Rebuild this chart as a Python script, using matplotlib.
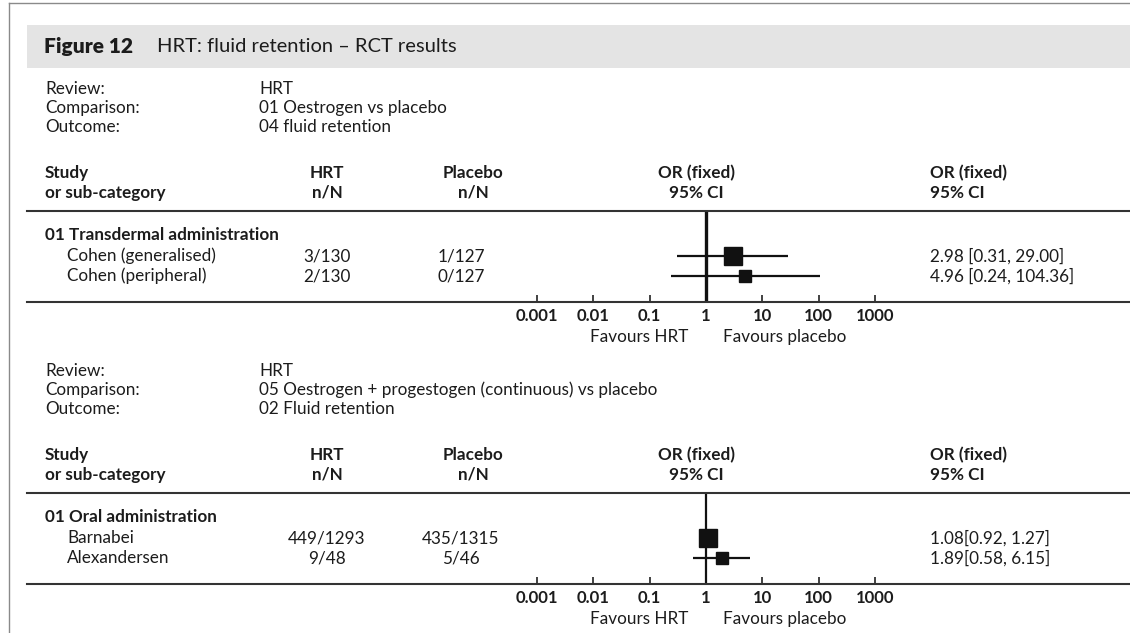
import matplotlib.pyplot as plt
from matplotlib.patches import Rectangle
from matplotlib.ticker import NullLocator
import numpy as np

plt.rcParams['font.family'] = ['Lato', 'DejaVu Sans']

W, H = 1130, 633
INK = '#1c1c1c'
FS = 12.3

# Figure caption
title_bold = "Figure 12"
title_rest = "HRT: fluid retention \u2013 RCT results"

# Review headers for the two analyses
review = ["HRT", "HRT"]
comparison = ["01 Oestrogen vs placebo",
              "05 Oestrogen + progestogen (continuous) vs placebo"]
outcome = ["04 fluid retention", "02 Fluid retention"]
subgroup = ["01 Transdermal administration", "01 Oral administration"]

# Analysis 1: transdermal
studies_1 = ["Cohen (generalised)", "Cohen (peripheral)"]
hrt_1 = ["3/130", "2/130"]
placebo_1 = ["1/127", "0/127"]
or_1 = [2.98, 4.96]
lo_1 = [0.31, 0.24]
hi_1 = [29.00, 104.36]

# Analysis 2: oral
studies_2 = ["Barnabei", "Alexandersen"]
hrt_2 = ["449/1293", "9/48"]
placebo_2 = ["435/1315", "5/46"]
or_2 = [1.08, 1.89]
lo_2 = [0.92, 0.58]
hi_2 = [1.27, 6.15]

tick_vals = [0.001, 0.01, 0.1, 1, 10, 100, 1000]
tick_labels = ["0.001", "0.01", "0.1", "1", "10", "100", "1000"]

# layout (pixels)
X_LABEL, X_VALUE, X_STUDY = 45, 259, 67
X_HRT, X_PLAC_HEAD, X_PLAC, X_OR_HEAD, X_CI = 327, 473, 461, 696, 930
X_ONE, DECADE = 706, 56.3
LINE_LEFT = 27

fig = plt.figure(figsize=(W / 100, H / 100), dpi=100)
page = fig.add_axes([0, 0, 1, 1])
page.set_xlim(0, W)
page.set_ylim(H, 0)
page.axis('off')

# frame and caption band
page.plot([9, W], [3, 3], color='#8a8a8a', lw=1.0)
page.plot([9, 9], [3, H], color='#8a8a8a', lw=1.0)
page.add_patch(Rectangle((LINE_LEFT, 25), W - LINE_LEFT, 43, color='#e4e4e4', lw=0))
page.text(44, 47, title_bold, fontsize=15, fontweight='heavy', color=INK, va='center')
page.text(157, 47, title_rest, fontsize=14.5, color=INK, va='center')


def txt(x, y, s, bold=False, ha='left', size=FS):
    page.text(x, y, s, fontsize=size, fontweight='bold' if bold else 'normal',
              color=INK, ha=ha, va='center')


def draw_block(top, k, studies, hrt, plac, ors, los, his, sep, sq_sizes, vlw):
    # review / comparison / outcome lines
    for j, (lab, val) in enumerate([("Review:", review[k]),
                                    ("Comparison:", comparison[k]),
                                    ("Outcome:", outcome[k])]):
        txt(X_LABEL, top + 19 * j, lab)
        txt(X_VALUE, top + 19 * j, val)

    y_h1, y_h2 = top + 84, top + 104
    txt(X_LABEL, y_h1, "Study", bold=True)
    txt(X_LABEL, y_h2, "or sub-category", bold=True)
    txt(X_HRT, y_h1, "HRT", bold=True, ha='center')
    txt(X_HRT, y_h2, "n/N", bold=True, ha='center')
    txt(X_PLAC_HEAD, y_h1, "Placebo", bold=True, ha='center')
    txt(X_PLAC_HEAD, y_h2, "n/N", bold=True, ha='center')
    txt(X_OR_HEAD, y_h1, "OR (fixed)", bold=True, ha='center')
    txt(X_OR_HEAD, y_h2, "95% CI", bold=True, ha='center')
    txt(X_CI, y_h1, "OR (fixed)", bold=True)
    txt(X_CI, y_h2, "95% CI", bold=True)

    y_line, y_axis = top + 122, top + 213
    txt(X_LABEL, top + 146, subgroup[k], bold=True)
    rows = [top + 167 + 20 * i for i in range(len(studies))]
    for i, y in enumerate(rows):
        txt(X_STUDY, y, studies[i])
        txt(X_HRT, y, hrt[i], ha='center')
        txt(X_PLAC, y, plac[i], ha='center')
        txt(X_CI, y, f"{ors[i]:.2f}{sep}[{los[i]:.2f}, {his[i]:.2f}]")

    # forest panel: log OR scale, spans the table width
    ax = fig.add_axes([LINE_LEFT / W, 1 - y_axis / H,
                       (W - LINE_LEFT) / W, (y_axis - y_line) / H])
    ax.patch.set_visible(False)
    ax.set_xscale('log')
    ax.set_xlim(10 ** ((LINE_LEFT - X_ONE) / DECADE), 10 ** ((W - X_ONE) / DECADE))
    ax.set_ylim(y_axis, y_line)
    for s in ['left', 'right']:
        ax.spines[s].set_visible(False)
    for s in ['top', 'bottom']:
        ax.spines[s].set_linewidth(1.5)
        ax.spines[s].set_color('#333333')
    ax.set_yticks([])
    ax.set_xticks(tick_vals)
    ax.set_xticklabels(tick_labels, fontweight='bold', fontsize=12, color=INK)
    ax.xaxis.set_minor_locator(NullLocator())
    ax.tick_params(axis='x', direction='in', length=5, width=1.3, color='#333333', pad=4)

    ax.axvline(1, color='#111111', lw=vlw)
    ax.hlines(rows, los, his, color='#111111', lw=1.6)
    for i, y in enumerate(rows):
        ax.plot(ors[i], y, marker='s', ms=sq_sizes[i], color='#111111', ls='none')

    ax.annotate("Favours HRT", xy=(1, 0), xycoords=('data', 'axes fraction'),
                xytext=(-13, -25), textcoords='offset points',
                ha='right', va='center', fontsize=FS, color=INK)
    ax.annotate("Favours placebo", xy=(1, 0), xycoords=('data', 'axes fraction'),
                xytext=(12, -25), textcoords='offset points',
                ha='left', va='center', fontsize=FS, color=INK)


draw_block(89, 0, studies_1, hrt_1, placebo_1, or_1, lo_1, hi_1, " ", [13, 8.6], 2.4)
draw_block(371, 1, studies_2, hrt_2, placebo_2, or_2, lo_2, hi_2, "", [13, 8.6], 1.6)

fig.savefig("out.png", dpi=100)
